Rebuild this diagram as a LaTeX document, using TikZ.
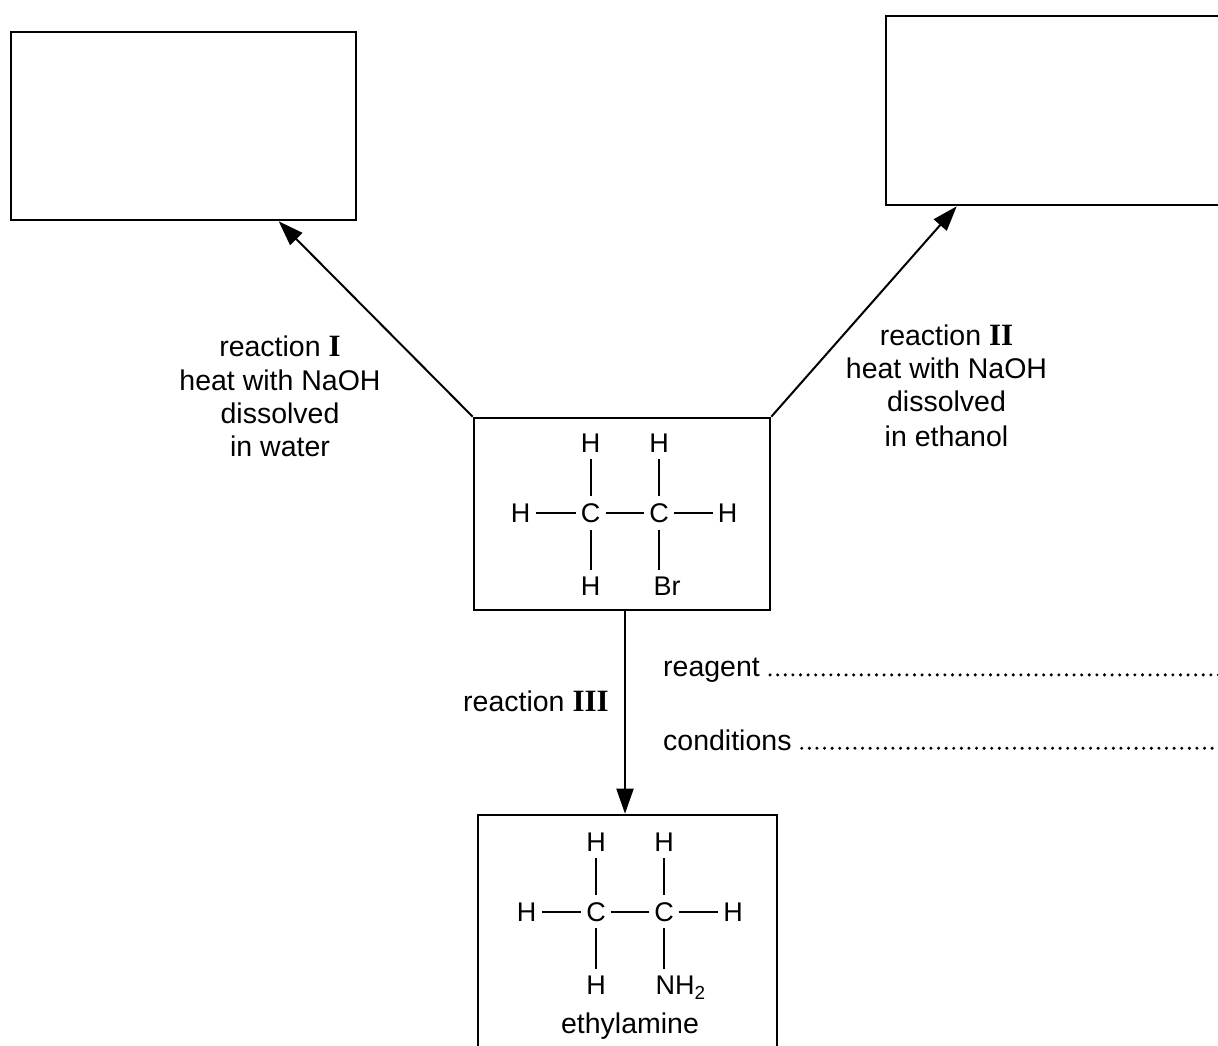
\documentclass[tikz,border=0pt]{standalone}
\usepackage{fontspec}
\setmainfont{Liberation Sans}
\newfontfamily\numfont{Liberation Serif}
\usetikzlibrary{arrows.meta}
\newcommand{\lbfont}{\fontsize{28.5}{34}\selectfont}
\newcommand{\atfont}{\fontsize{27}{32}\selectfont}
\newcommand{\rnum}[1]{{\fontsize{31}{34}\selectfont\numfont\bfseries #1}}
\begin{document}
\begin{tikzpicture}[x=1pt,y=-1pt,
  box/.style={draw, line width=2.6pt, rectangle, inner sep=0pt},
  arr/.style={line width=2pt, -{Triangle[length=25pt,width=17pt]}},
  lbl/.style={font=\lbfont, inner sep=0pt, anchor=base},
  atom/.style={font=\atfont, inner xsep=5pt, inner ysep=7pt},
  bond/.style={line width=1.8pt},
  dotline/.style={line width=3.4pt, line cap=round, dash pattern=on 0pt off 7.6pt}]
\useasboundingbox (0,0) rectangle (1218,1045);
\fill[white] (0,0) rectangle (1218,1045);
\clip (0,0) rectangle (1218,1045);

% boxes
\node[box, minimum width=345pt, minimum height=188pt] (left) at (183.5,126) {};
\node[box, minimum width=354pt, minimum height=189pt] (right) at (1063,110.5) {};
\node[box, minimum width=296pt, minimum height=192pt] (mid) at (622,514) {};
\node[box, minimum width=299pt, minimum height=260pt] (bot) at (627.5,945) {};

% arrows
\coordinate (tipI) at ([xshift=269pt]left.south west);
\coordinate (tipII) at ([xshift=72pt]right.south west);
\coordinate (startIII) at ([xshift=3pt]mid.south);
\draw[arr] (mid.north west) -- (tipI);
\draw[arr] (mid.north east) -- (tipII);
\draw[arr] (startIII) -- (startIII |- bot.north);

% reaction I
\node[lbl] (r1a) at (280,356) {reaction \rnum{I}};
\node[lbl] (r1b) at (280,390) {heat with NaOH};
\node[lbl] (r1c) at (280,423) {dissolved};
\node[lbl] (r1d) at (280,456.7) {in water};

% reaction II
\node[lbl] (r2a) at (946.5,345) {reaction \rnum{II}};
\node[lbl] (r2b) at (946.5,378) {heat with NaOH};
\node[lbl] (r2c) at (946.5,411.7) {dissolved};
\node[lbl] (r2d) at (946.5,446.7) {in ethanol};

% reaction III
\node[lbl, anchor=base west] (r3) at (463,711.7) {reaction \rnum{III}};
\node[lbl, anchor=base west] (reag) at (663,676.7) {reagent};
\node[lbl, anchor=base west] (cond) at (663,750) {conditions};
\coordinate (edge) at (1222,0);
\coordinate (rs) at ([xshift=10pt,yshift=1.8pt]reag.base east);
\coordinate (cs) at ([xshift=10pt,yshift=1.8pt]cond.base east);
\draw[dotline] (rs) -- (rs -| edge);
\draw[dotline] (cs) -- (cs -| edge);

% bromoethane
\node[atom] (aH1) at (590.7,443) {H};
\node[atom] (aH2) at (659,443) {H};
\node[atom] (aH3) at (520.7,513) {H};
\node[atom] (aC1) at (590.7,513) {C};
\node[atom] (aC2) at (659,513) {C};
\node[atom] (aH4) at (727.7,513) {H};
\node[atom] (aH5) at (590.7,586.7) {H};
\node[atom] (aBr) at (667,586.7) {Br};
\draw[bond] (aH1) -- (aC1);
\draw[bond] (aH2) -- (aC2);
\draw[bond] (aH3) -- (aC1);
\draw[bond] (aC1) -- (aC2);
\draw[bond] (aC2) -- (aH4);
\draw[bond] (aC1) -- (aH5);
\draw[bond] (aC2) -- (aC2 |- aBr.north);

% ethylamine
\node[atom] (bH1) at (596,841.7) {H};
\node[atom] (bH2) at (664,841.7) {H};
\node[atom] (bH3) at (526.7,911.7) {H};
\node[atom] (bC1) at (596,911.7) {C};
\node[atom] (bC2) at (664,911.7) {C};
\node[atom] (bH4) at (733,911.7) {H};
\node[atom] (bH5) at (596,985) {H};
\node[atom, anchor=base west, inner xsep=0pt] (bN) at (655.3,994.7) {NH\textsubscript{2}};
\draw[bond] (bH1) -- (bC1);
\draw[bond] (bH2) -- (bC2);
\draw[bond] (bH3) -- (bC1);
\draw[bond] (bC1) -- (bC2);
\draw[bond] (bC2) -- (bH4);
\draw[bond] (bC1) -- (bH5);
\draw[bond] (bC2) -- (bC2 |- bN.north);
\node[lbl] (ethyl) at (630,1033) {ethylamine};
\end{tikzpicture}
\end{document}
